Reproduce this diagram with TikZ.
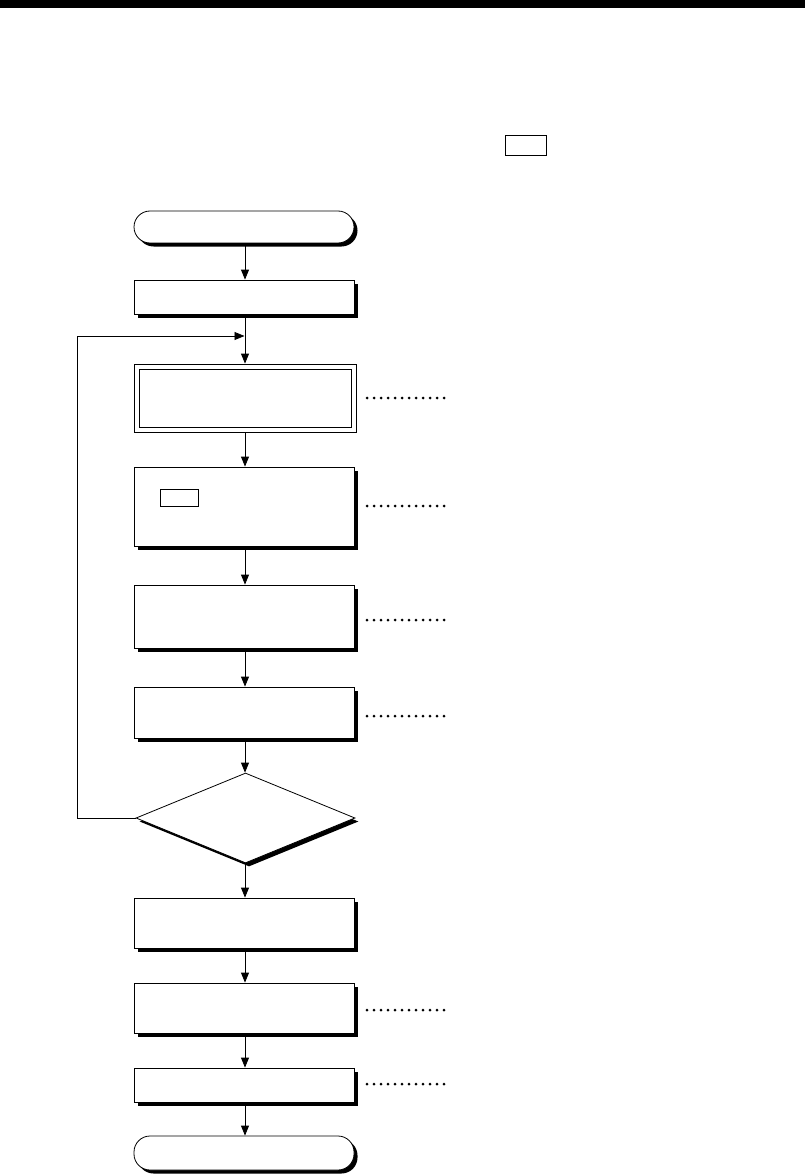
\documentclass[tikz,border=0pt]{standalone}
\usetikzlibrary{arrows.meta,shapes.geometric,shadows,calc}
\begin{document}
\begin{tikzpicture}[x=1pt,y=-1pt,
  base/.style={draw=black,line width=0.8pt,fill=white,inner sep=0pt,minimum width=220pt},
  shadowed/.style={drop shadow={shadow xshift=3.5pt,shadow yshift=-3.5pt,fill=black,opacity=1}},
  procbox/.style={base,shadowed,rectangle},
  termbox/.style={base,shadowed,rectangle,rounded corners=16pt},
  outerbox/.style={rectangle,draw=black,line width=0.8pt,fill=white,inner sep=0pt,minimum width=222pt},
  decbox/.style={base,shadowed,diamond,minimum width=219pt,minimum height=90pt},
  smallbox/.style={rectangle,draw=black,line width=0.9pt,inner sep=0pt},
  flow/.style={draw=black,line width=0.8pt,-{Triangle[width=8pt,length=10pt]}},
  plainline/.style={draw=black,line width=0.8pt},
  dotmark/.style={fill=black}
]
\useasboundingbox (0,0) rectangle (805,1174);
\fill[black] (0,0) rectangle (805,8);

\node[smallbox,minimum width=41pt,minimum height=20pt] (legend) at (525.5,145) {};

\node[termbox,minimum height=32pt] (start) at (244,227) {};
\node[procbox,minimum height=34pt] (b2) at (244,297) {};
\node[outerbox,minimum height=68pt] (b3) at (245,398) {};
\draw[plainline] ([shift={(6pt,-6pt)}]b3.north west) rectangle ([shift={(-5pt,5pt)}]b3.south east);
\node[procbox,minimum height=79pt] (b4) at (244,506.5) {};
\node[smallbox,minimum width=38pt,minimum height=17pt] (b4s) at (179,497.5) {};
\node[procbox,minimum height=63pt] (b5) at (244,616.5) {};
\node[procbox,minimum height=51pt] (b6) at (244,712.5) {};
\node[decbox] (dec) at (245.5,818) {};
\node[procbox,minimum height=50pt] (b7) at (244,923) {};
\node[procbox,minimum height=50pt] (b8) at (244,1008) {};
\node[procbox,minimum height=34pt] (b9) at (244,1085) {};
\node[termbox,minimum height=34pt] (stop) at (244,1153) {};

\draw[flow] (start.south -| 245,0) -- (b2.north -| 245,0);
\draw[flow] (b2.south -| 245,0) -- (b3.north -| 245,0);
\draw[flow] (b3.south -| 245,0) -- (b4.north -| 245,0);
\draw[flow] (b4.south -| 245,0) -- (b5.north -| 245,0);
\draw[flow] (b5.south -| 245,0) -- (b6.north -| 245,0);
\draw[flow] (b6.south -| 245,0) -- (dec.north -| 245,0);
\draw[flow] (dec.south -| 245,0) -- (b7.north -| 245,0);
\draw[flow] (b7.south -| 245,0) -- (b8.north -| 245,0);
\draw[flow] (b8.south -| 245,0) -- (b9.north -| 245,0);
\draw[flow] (b9.south -| 245,0) -- (stop.north -| 245,0);

\coordinate (loopin) at (244.5,336);
\coordinate (loopcorner) at (77,818);
\draw[flow] (dec.west) -- (loopcorner) |- (loopin);

\foreach \n/\yy in {c3/398,c4/506,c5/620,c6/716,c8/1010,c9/1084}{
  \coordinate (\n a) at (367,\yy);
  \coordinate (\n b) at (444,\yy);
  \foreach \i in {0,...,11}{
    \fill[dotmark] ($(\n a)!\i/11!(\n b)$) circle (1.5pt);
  }
}
\end{tikzpicture}
\end{document}
